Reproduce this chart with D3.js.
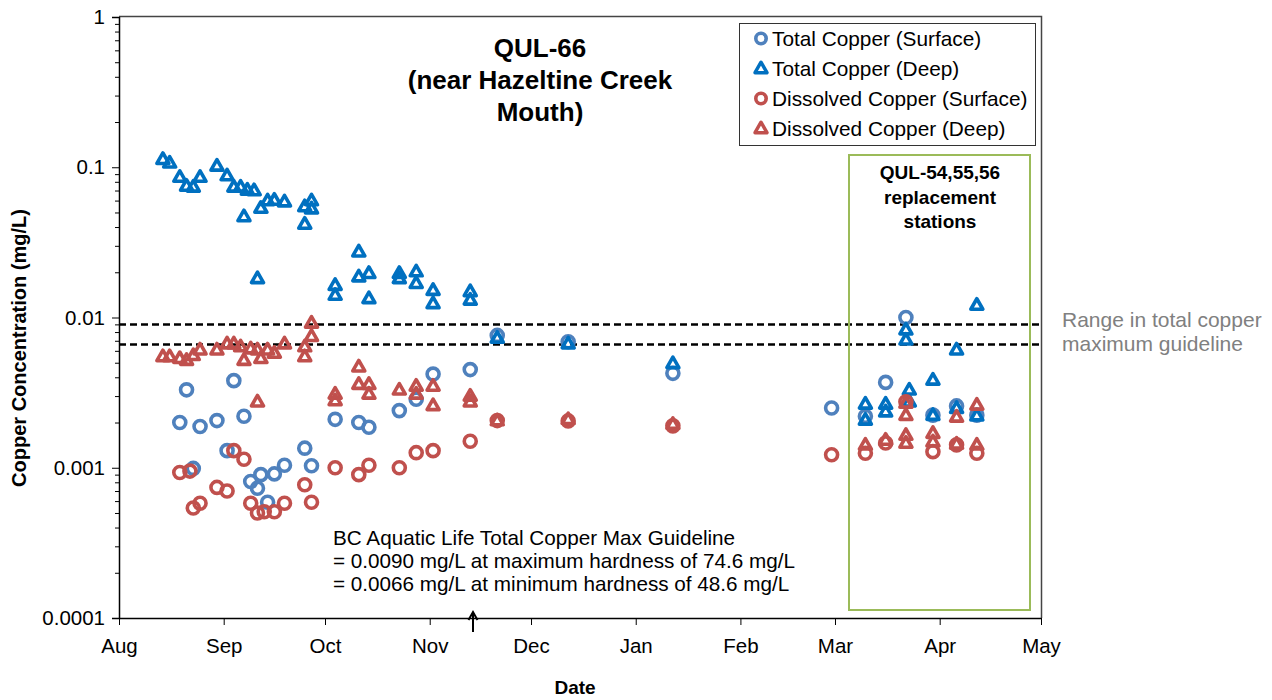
<!DOCTYPE html>
<html>
<head>
<meta charset="utf-8">
<script src="https://cdn.jsdelivr.net/npm/d3@7"></script>
<style>
body{margin:0;background:#fff;}
svg{display:block;font-family:"Liberation Sans",Arial,sans-serif;}
</style>
</head>
<body>
<div id="chart"></div>
<script>
// values (mg/L)
var tsDates = ['2014-08-19','2014-08-21','2014-08-23','2014-08-25','2014-08-30','2014-09-02','2014-09-04','2014-09-07','2014-09-09','2014-09-11','2014-09-12','2014-09-14','2014-09-16','2014-09-19','2014-09-25','2014-09-27','2014-10-04','2014-10-11','2014-10-14','2014-10-23','2014-10-28','2014-11-02','2014-11-13','2014-11-21','2014-12-12','2015-01-12','2015-02-28','2015-03-10','2015-03-16','2015-03-22','2015-03-30','2015-04-06','2015-04-12'];
var tsVals = [0.0020,0.0033,0.00099,0.00188,0.00206,0.0013,0.0038,0.0022,0.00081,0.00073,0.0009,0.00059,0.00091,0.00104,0.00135,0.00103,0.0021,0.0020,0.00186,0.0024,0.00286,0.0042,0.0045,0.0076,0.0069,0.00425,0.0025,0.0022,0.0037,0.0100,0.00224,0.00258,0.00224];

var tdDates = ['2014-08-14','2014-08-16','2014-08-19','2014-08-21','2014-08-23','2014-08-25','2014-08-30','2014-09-02','2014-09-04','2014-09-06','2014-09-07','2014-09-08','2014-09-10','2014-09-11','2014-09-12','2014-09-14','2014-09-16','2014-09-19','2014-09-25','2014-09-25','2014-09-27','2014-09-27','2014-10-04','2014-10-04','2014-10-11','2014-10-11','2014-10-14','2014-10-14','2014-10-23','2014-10-23','2014-10-28','2014-10-28','2014-11-02','2014-11-02','2014-11-13','2014-11-13','2014-11-21','2014-12-12','2015-01-12','2015-03-10','2015-03-10','2015-03-16','2015-03-16','2015-03-22','2015-03-22','2015-03-23','2015-03-23','2015-03-30','2015-03-30','2015-04-06','2015-04-06','2015-04-12','2015-04-12'];
var tdVals = [0.113,0.107,0.086,0.075,0.074,0.086,0.102,0.088,0.074,0.074,0.047,0.0706,0.070,0.0182,0.0535,0.060,0.0605,0.059,0.0548,0.0419,0.060,0.053,0.0164,0.0141,0.0274,0.0187,0.0197,0.0134,0.0197,0.0182,0.0202,0.0169,0.0152,0.0124,0.0149,0.0131,0.0073,0.0067,0.00495,0.00266,0.00208,0.00266,0.00236,0.0083,0.0071,0.0033,0.00275,0.00384,0.00224,0.0061,0.00249,0.0121,0.00222];

var dsDates = ['2014-08-19','2014-08-22','2014-08-23','2014-08-25','2014-08-30','2014-09-02','2014-09-04','2014-09-07','2014-09-09','2014-09-11','2014-09-13','2014-09-16','2014-09-19','2014-09-25','2014-09-27','2014-10-04','2014-10-11','2014-10-14','2014-10-23','2014-10-28','2014-11-02','2014-11-13','2014-11-21','2014-12-12','2015-01-12','2015-02-28','2015-03-10','2015-03-16','2015-03-22','2015-03-30','2015-04-06','2015-04-12'];
var dsVals = [0.00093,0.00095,0.00054,0.00058,0.00074,0.0007,0.0013,0.00114,0.00058,0.0005,0.00051,0.00051,0.00058,0.00077,0.00059,0.001,0.0009,0.00104,0.001,0.00126,0.0013,0.0015,0.00206,0.00205,0.0019,0.00122,0.00125,0.00146,0.00275,0.00128,0.00142,0.00125];

var ddDates = ['2014-08-14','2014-08-16','2014-08-19','2014-08-21','2014-08-23','2014-08-25','2014-08-30','2014-09-02','2014-09-04','2014-09-06','2014-09-07','2014-09-09','2014-09-11','2014-09-11','2014-09-12','2014-09-14','2014-09-16','2014-09-19','2014-09-25','2014-09-25','2014-09-27','2014-09-27','2014-10-04','2014-10-04','2014-10-11','2014-10-11','2014-10-14','2014-10-14','2014-10-23','2014-10-28','2014-10-28','2014-11-02','2014-11-02','2014-11-13','2014-11-13','2014-11-21','2014-12-12','2015-01-12','2015-03-10','2015-03-16','2015-03-22','2015-03-22','2015-03-22','2015-03-22','2015-03-30','2015-03-30','2015-04-06','2015-04-06','2015-04-12','2015-04-12'];
var ddVals = [0.0055,0.0055,0.00535,0.0052,0.0056,0.0061,0.0061,0.0067,0.0067,0.0064,0.0052,0.0062,0.0061,0.00275,0.00535,0.0061,0.0058,0.0067,0.0064,0.0055,0.0092,0.0075,0.0031,0.0028,0.0047,0.0036,0.0036,0.0031,0.0033,0.0035,0.0031,0.0035,0.0026,0.0030,0.00275,0.00206,0.0021,0.00195,0.00142,0.00153,0.0027,0.00224,0.00165,0.00146,0.0017,0.00149,0.00218,0.00144,0.00262,0.00142];

var guideMax = 0.0090, guideMin = 0.0066;
var yTicks = [1, 0.1, 0.01, 0.001, 0.0001];
var yTickLabels = ['1', '0.1', '0.01', '0.001', '0.0001'];
var seriesNames = ['Total Copper (Surface)', 'Total Copper (Deep)', 'Dissolved Copper (Surface)', 'Dissolved Copper (Deep)'];

var W = 1272, H = 700;
var m = {t:17, l:119, r:1041, b:618};

var svg = d3.select('#chart').append('svg')
    .attr('width', W).attr('height', H);

var parseDate = d3.timeParse('%Y-%m-%d');

var x = d3.scaleTime()
    .domain([new Date(2014,7,1), new Date(2015,4,1)])
    .range([m.l, m.r]);
var y = d3.scaleLog()
    .domain([0.0001, 1])
    .range([m.b, m.t]);

// plot frame (top/right)
svg.append('path')
    .attr('d', 'M' + m.l + ',' + (m.t-0.5) + 'H' + (m.r+0.5) + 'V' + m.b)
    .attr('fill', 'none').attr('stroke', '#444').attr('stroke-width', 1.5);

// minor y ticks
var minor = [];
[0.0001, 0.001, 0.01, 0.1].forEach(function(d){
    for (var k = 2; k <= 9; k++) minor.push(d*k);
});
svg.append('g')
    .attr('transform', 'translate(' + m.l + ',0)')
    .call(d3.axisLeft(y).tickValues(minor).tickSize(4).tickFormat(''))
    .call(function(g){ g.select('.domain').remove(); });

var yAxis = svg.append('g')
    .attr('transform', 'translate(' + m.l + ',0)')
    .call(d3.axisLeft(y).tickValues(yTicks).tickSize(7).tickPadding(7)
        .tickFormat(function(d, i){ return yTickLabels[i]; }));

var xAxis = svg.append('g')
    .attr('transform', 'translate(0,' + m.b + ')')
    .call(d3.axisBottom(x).ticks(d3.timeMonth.every(1)).tickSize(7).tickPadding(13)
        .tickSizeOuter(0).tickFormat(d3.timeFormat('%b')));

[xAxis, yAxis].forEach(function(g){
    g.selectAll('text').style('font-size', '20.5px').style('font-family', '"Liberation Sans",Arial,sans-serif').attr('fill', '#000');
    g.select('.domain').attr('stroke-width', 1.5);
});
svg.selectAll('.tick line').attr('stroke', '#000');

// guideline dashed lines
[guideMax, guideMin].forEach(function(v){
    svg.append('line')
        .attr('x1', m.l).attr('x2', m.r)
        .attr('y1', y(v)).attr('y2', y(v))
        .attr('stroke', '#000').attr('stroke-width', 2.5)
        .attr('stroke-dasharray', '7,4');
});

// replacement stations box
svg.append('rect')
    .attr('x', 849).attr('y', 155).attr('width', 181).attr('height', 455)
    .attr('fill', 'none').attr('stroke', '#9BBB59').attr('stroke-width', 2);
svg.append('text')
    .attr('x', 940).attr('y', 179)
    .attr('text-anchor', 'middle')
    .style('font-weight', 'bold').style('font-size', '19px')
    .selectAll('tspan').data(['QUL-54,55,56', 'replacement', 'stations']).enter()
    .append('tspan').attr('x', 940).attr('dy', function(d, i){ return i ? 24.5 : 0; })
    .text(function(d){ return d; });

// markers
var tri = 'M0,-6.3L6,4.2L-6,4.2Z';
function drawSeries(dates, vals, shape, color){
    var pts = d3.zip(dates, vals).map(function(p){ return {date: parseDate(p[0]), v: p[1]}; });
    var g = svg.append('g');
    if (shape === 'circle') {
        g.selectAll('circle').data(pts).enter().append('circle')
            .attr('cx', function(d){ return x(d.date); })
            .attr('cy', function(d){ return y(d.v); })
            .attr('r', 6)
            .attr('fill', 'none').attr('stroke', color).attr('stroke-width', 3.6);
    } else {
        g.selectAll('path').data(pts).enter().append('path')
            .attr('d', tri)
            .attr('transform', function(d){ return 'translate(' + x(d.date) + ',' + y(d.v) + ')'; })
            .attr('fill', 'none').attr('stroke', color).attr('stroke-width', 3.6)
            .attr('stroke-linejoin', 'round');
    }
}
var colors = ['#4F81BD', '#0070C0', '#C0504D', '#C0504D'];
var shapes = ['circle', 'triangle', 'circle', 'triangle'];
drawSeries(tsDates, tsVals, 'circle', colors[0]);
drawSeries(tdDates, tdVals, 'triangle', colors[1]);
drawSeries(dsDates, dsVals, 'circle', colors[2]);
drawSeries(ddDates, ddVals, 'triangle', colors[3]);

// title
svg.append('text')
    .attr('x', 540).attr('y', 57)
    .attr('text-anchor', 'middle')
    .style('font-weight', 'bold').style('font-size', '26px')
    .selectAll('tspan').data(['QUL-66', '(near Hazeltine Creek', 'Mouth)']).enter()
    .append('tspan').attr('x', 540).attr('dy', function(d, i){ return i ? 32 : 0; })
    .text(function(d){ return d; });

// legend
var leg = svg.append('g');
leg.append('rect')
    .attr('x', 739.5).attr('y', 23.5).attr('width', 296).attr('height', 122)
    .attr('fill', '#fff').attr('stroke', '#333').attr('stroke-width', 1);
seriesNames.forEach(function(name, i){
    var cy = 38.5 + i*30;
    if (shapes[i] === 'circle') {
        leg.append('circle').attr('cx', 761).attr('cy', cy).attr('r', 5.2)
            .attr('fill', 'none').attr('stroke', colors[i]).attr('stroke-width', 3.6);
    } else {
        leg.append('path').attr('d', tri)
            .attr('transform', 'translate(761,' + cy + ')')
            .attr('fill', 'none').attr('stroke', colors[i]).attr('stroke-width', 3.4)
            .attr('stroke-linejoin', 'round');
    }
    leg.append('text').attr('x', 772).attr('y', cy + 7.5)
        .style('font-size', '20.8px').text(name);
});

// guideline annotation
svg.append('text')
    .attr('x', 333).attr('y', 545)
    .style('font-size', '20.7px')
    .selectAll('tspan').data(['BC Aquatic Life Total Copper Max Guideline',
        '= 0.0090 mg/L at maximum hardness of 74.6 mg/L',
        '= 0.0066 mg/L at minimum hardness of 48.6 mg/L']).enter()
    .append('tspan').attr('x', 333).attr('dy', function(d, i){ return i ? 23 : 0; })
    .text(function(d){ return d; });

svg.append('line')
    .attr('x1', 473).attr('x2', 473).attr('y1', 632).attr('y2', 614)
    .attr('stroke', '#000').attr('stroke-width', 2);
svg.append('path')
    .attr('d', 'M468.5,620L473,612L477.5,620')
    .attr('fill', 'none').attr('stroke', '#000').attr('stroke-width', 2);

svg.append('text')
    .attr('x', 1062).attr('y', 327)
    .attr('fill', '#808080').style('font-size', '21px')
    .selectAll('tspan').data(['Range in total copper', 'maximum guideline']).enter()
    .append('tspan').attr('x', 1062).attr('dy', function(d, i){ return i ? 24 : 0; })
    .text(function(d){ return d; });

// axis titles
svg.append('text')
    .attr('x', 575).attr('y', 694)
    .attr('text-anchor', 'middle')
    .style('font-weight', 'bold').style('font-size', '19px')
    .text('Date');
svg.append('text')
    .attr('transform', 'translate(26,348) rotate(-90)')
    .attr('text-anchor', 'middle')
    .style('font-family', '"Liberation Sans Narrow","Arial Narrow","Liberation Sans",sans-serif')
    .style('font-weight', 'bold').style('font-size', '20px')
    .text('Copper Concentration (mg/L)');
</script>
</body>
</html>
